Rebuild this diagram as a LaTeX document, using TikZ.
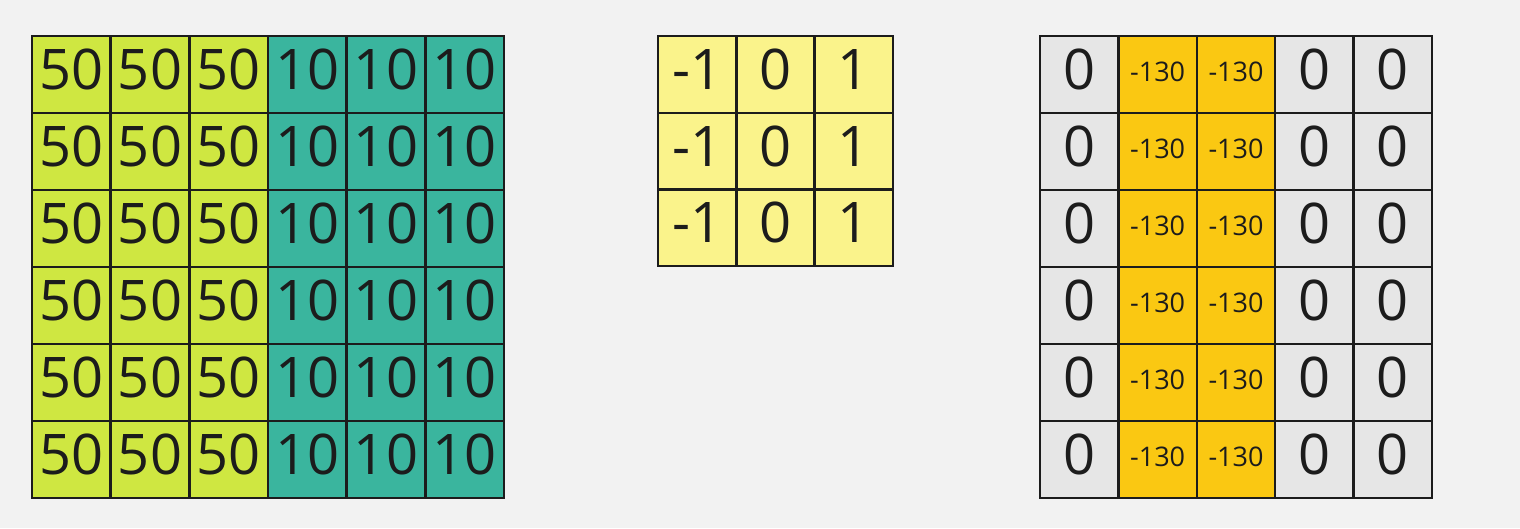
\documentclass[tikz,border=0pt]{standalone}
\usepackage{fontspec}
\setmainfont{Open Sans}
\definecolor{bg}{HTML}{F2F2F2}
\definecolor{lime}{HTML}{CFE741}
\definecolor{teal}{HTML}{3AB59E}
\definecolor{kyel}{HTML}{FAF38B}
\definecolor{cgray}{HTML}{E6E6E6}
\definecolor{gold}{HTML}{FAC812}
\definecolor{ink}{HTML}{1C1C1C}
\tikzset{
  cell/.style={draw=ink, line width=2.4pt, inner sep=0pt, outer sep=0pt,
    minimum width=#1, minimum height=77pt, text=ink,
    font=\fontsize{56}{60}\selectfont, text height=41pt, text depth=11pt},
  cell/.default=78.6pt,
  small/.style={font=\fontsize{27}{30}\selectfont, text height=20pt, text depth=7pt},
}
\begin{document}
\begin{tikzpicture}[x=1pt,y=-1pt]
\fill[bg] (0,0) rectangle (1520,528);
\useasboundingbox (0,0) rectangle (1520,528);
% input image
\foreach \r in {0,...,5}{
  \foreach \c in {0,...,2}{
    \node[cell=78.67pt, fill=lime] (a-\r-\c) at ({32+78.67*(\c+0.5)},{36+77*(\r+0.5)}) {50};
  }
  \foreach \c in {3,...,5}{
    \node[cell=78.67pt, fill=teal] (a-\r-\c) at ({32+78.67*(\c+0.5)},{36+77*(\r+0.5)}) {10};
  }
}
% kernel
\foreach \r in {0,...,2}{
  \node[cell=78.3pt, fill=kyel, minimum height=76.7pt] (k-\r-0) at ({658+78.3*0.5},{36+76.7*(\r+0.5)}) {-1};
  \node[cell=78.3pt, fill=kyel, minimum height=76.7pt] (k-\r-1) at ({658+78.3*1.5},{36+76.7*(\r+0.5)}) {0};
  \node[cell=78.3pt, fill=kyel, minimum height=76.7pt] (k-\r-2) at ({658+78.3*2.5},{36+76.7*(\r+0.5)}) {1};
}
% output
\foreach \r in {0,...,5}{
  \node[cell=78.4pt, fill=cgray] (o-\r-0) at ({1040+78.4*0.5},{36+77*(\r+0.5)}) {0};
  \node[cell=78.4pt, fill=gold, small] (o-\r-1) at ({1040+78.4*1.5},{36+77*(\r+0.5)}) {-130};
  \node[cell=78.4pt, fill=gold, small] (o-\r-2) at ({1040+78.4*2.5},{36+77*(\r+0.5)}) {-130};
  \node[cell=78.4pt, fill=cgray] (o-\r-3) at ({1040+78.4*3.5},{36+77*(\r+0.5)}) {0};
  \node[cell=78.4pt, fill=cgray] (o-\r-4) at ({1040+78.4*4.5},{36+77*(\r+0.5)}) {0};
}
\end{tikzpicture}
\end{document}
